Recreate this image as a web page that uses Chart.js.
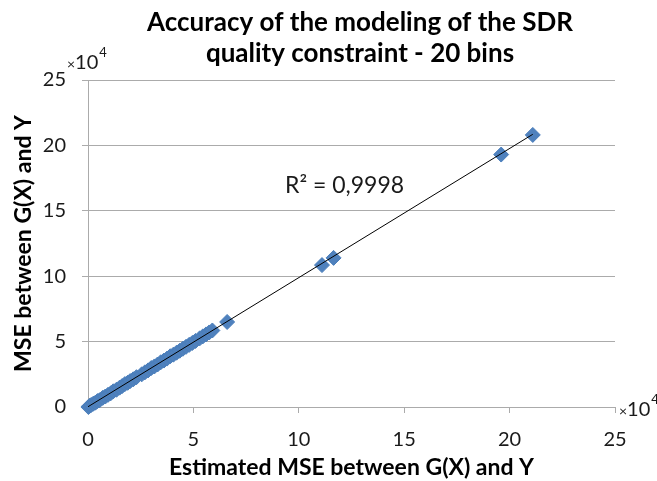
<!DOCTYPE html>
<html>
<head>
<meta charset="utf-8">
<script src="https://cdn.jsdelivr.net/npm/chart.js@4.4.1/dist/chart.umd.min.js"></script>
<style>
  body { margin: 0; background: #fff; }
  canvas { display: block; }
</style>
</head>
<body>
<canvas id="sdrChart" width="657" height="481"></canvas>
<script>
// values are in units of 10^4, as the axes read them
const estimatedMse = [0.02, 0.08, 0.15, 0.25, 0.35, 0.45, 0.55, 0.7, 0.82, 0.95, 1.08, 1.2, 1.35, 1.5, 1.62, 1.75, 1.88, 2.0, 2.15, 2.3,
  2.55, 2.7, 2.85, 3.0, 3.15, 3.3, 3.45, 3.6, 3.75, 3.9, 4.05, 4.2, 4.35, 4.5, 4.65, 4.8, 4.95, 5.1,
  5.3, 5.45, 5.6, 5.75, 5.9, 6.6, 11.1, 11.65, 19.6, 21.1];
const measuredMse = [0.0, 0.1, 0.15, 0.25, 0.33, 0.45, 0.52, 0.7, 0.8, 0.93, 1.05, 1.2, 1.32, 1.48, 1.6, 1.75, 1.85, 1.98, 2.12, 2.28,
  2.5, 2.65, 2.8, 2.98, 3.1, 3.25, 3.42, 3.55, 3.7, 3.88, 4.0, 4.15, 4.3, 4.45, 4.6, 4.75, 4.9, 5.05,
  5.25, 5.4, 5.55, 5.7, 5.85, 6.5, 10.85, 11.4, 19.3, 20.8];
const trendX = [0, 21.1];
const trendY = [0.02, 20.85];
const axisTicks = [0, 5, 10, 15, 20, 25];

const titleLines = ['Accuracy of the modeling of the SDR', 'quality constraint - 20 bins'];
const rSquaredText = 'R\u00B2 = 0,9998';

const gridColor = '#ababab';
const textColor = '#1a1a1a';

const scatterPoints = estimatedMse.map((x, i) => ({ x: x, y: measuredMse[i] }));
const trendPoints = trendX.map((x, i) => ({ x: x, y: trendY[i] }));

function drawPower(ctx, x, y) {
    // "x10^4" like Excel's display units label
    ctx.textAlign = 'left';
    ctx.textBaseline = 'alphabetic';
    ctx.font = '14px Lato';
    ctx.fillText('\u00D7', x, y);
    let w = ctx.measureText('\u00D7').width;
    ctx.font = '20px Lato';
    ctx.fillText('10', x + w, y);
    w += ctx.measureText('10').width;
    ctx.font = '13px Lato';
    ctx.fillText('4', x + w + 1, y - 12);
}

const textPlugin = {
    id: 'textPlugin',
    afterDraw(chart) {
        const ctx = chart.ctx;
        ctx.save();
        ctx.fillStyle = '#000';
        ctx.font = 'bold 26px Lato';
        ctx.textAlign = 'center';
        ctx.textBaseline = 'middle';
        ctx.fillText(titleLines[0], 360, 23);
        ctx.fillText(titleLines[1], 360, 54);

        ctx.font = '23px Lato';
        ctx.textAlign = 'left';
        ctx.fillStyle = textColor;
        ctx.fillText(rSquaredText, 285, 186);

        drawPower(ctx, 67, 69);
        drawPower(ctx, 619, 416);
        ctx.restore();
    }
};

const ctx = document.getElementById('sdrChart').getContext('2d');
const sdrChart = new Chart(ctx, {
    type: 'scatter',
    data: {
        datasets: [{
            type: 'line',
            data: trendPoints,
            borderColor: '#000',
            borderWidth: 1,
            pointRadius: 0,
            fill: false,
            order: 0
        }, {
            data: scatterPoints,
            pointStyle: 'rectRot',
            pointRadius: 7.5,
            backgroundColor: '#4F81BD',
            borderColor: '#4A7EBB',
            borderWidth: 1,
            clip: false,
            order: 1
        }]
    },
    options: {
        responsive: false,
        animation: false,
        layout: {
            padding: { top: 80, right: 42, left: 0, bottom: 0 }
        },
        plugins: {
            legend: { display: false },
            tooltip: { enabled: false },
            title: { display: false }
        },
        scales: {
            x: {
                type: 'linear',
                min: 0,
                max: 25,
                afterBuildTicks: (scale) => { scale.ticks = axisTicks.map(v => ({ value: v })); },
                afterFit: (scale) => { scale.height = 74; },
                ticks: {
                    color: textColor,
                    font: { family: 'Lato', size: 20 },
                    padding: 15
                },
                grid: {
                    drawOnChartArea: false,
                    tickLength: 6,
                    color: gridColor
                },
                border: { color: gridColor },
                title: {
                    display: true,
                    text: 'Estimated MSE between G(X) and Y',
                    color: '#000',
                    font: { family: 'Lato', size: 23, weight: 'bold' },
                    padding: { top: 0, bottom: 0 }
                }
            },
            y: {
                type: 'linear',
                min: 0,
                max: 25,
                afterBuildTicks: (scale) => { scale.ticks = axisTicks.map(v => ({ value: v })); },
                afterFit: (scale) => { scale.width = 88; },
                ticks: {
                    color: textColor,
                    font: { family: 'Lato', size: 20 },
                    padding: 16
                },
                grid: {
                    tickLength: 6,
                    color: gridColor
                },
                border: { color: gridColor },
                title: {
                    display: true,
                    text: 'MSE between G(X) and Y',
                    color: '#000',
                    font: { family: 'Lato', size: 23, weight: 'bold' },
                    padding: { top: 10, bottom: 0 }
                }
            }
        }
    },
    plugins: [textPlugin]
});
</script>
</body>
</html>
